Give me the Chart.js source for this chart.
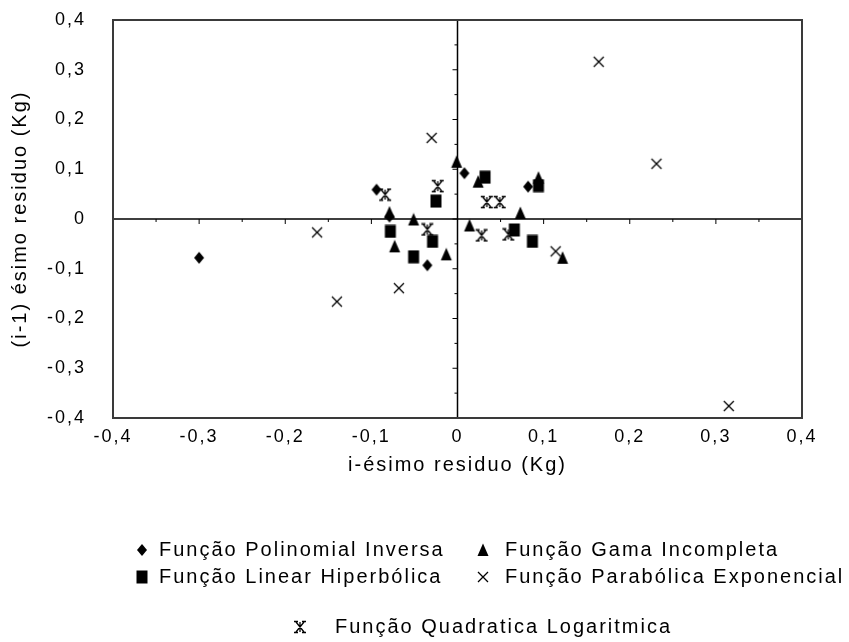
<!DOCTYPE html>
<html>
<head>
<meta charset="utf-8">
<script src="https://cdn.jsdelivr.net/npm/chart.js@4.4.0/dist/chart.umd.min.js"></script>
<style>
  html, body { margin: 0; padding: 0; background: #fff; }
  #wrap { width: 849px; height: 642px; }
</style>
</head>
<body>
<div id="wrap"><canvas id="chart" width="849" height="642"></canvas></div>
<script>
// series names, in legend order
const seriesNames = [
  'Função Polinomial Inversa',
  'Função Gama Incompleta',
  'Função Linear Hiperbólica',
  'Função Parabólica Exponencial',
  'Função Quadratica Logaritmica'
]

// residuals (x = i-ésimo, y = (i-1) ésimo)
const polinomialX = [-0.300, -0.094, -0.079, -0.035, 0.008, 0.082]
const polinomialY = [-0.078, 0.059, 0.005, -0.093, 0.092, 0.065]

const gamaX = [-0.001, 0.024, -0.079, -0.073, -0.051, -0.013, 0.014, 0.073, 0.094, 0.122]
const gamaY = [0.115, 0.075, 0.013, -0.055, -0.001, -0.071, -0.013, 0.012, 0.083, -0.078]

const linearX = [0.032, -0.025, -0.078, -0.029, -0.051, 0.094, 0.066, 0.087]
const linearY = [0.084, 0.036, -0.025, -0.045, -0.076, 0.067, -0.022, -0.045]

const parabolicaX = [-0.030, -0.068, 0.164, 0.231, 0.315, 0.114, -0.163, -0.140]
const parabolicaY = [0.163, -0.139, 0.316, 0.111, -0.376, -0.065, -0.027, -0.166]

const quadraticaX = [-0.084, -0.023, -0.035, 0.034, 0.049, 0.028, 0.059]
const quadraticaY = [0.049, 0.066, -0.021, 0.034, 0.034, -0.033, -0.031]

// tick labels (same on both axes)
const tickLabels = ['-0,4', '-0,3', '-0,2', '-0,1', '0', '0,1', '0,2', '0,3', '0,4']

const toPoints = (xs, ys) => xs.map((x, i) => ({ x: x, y: ys[i] }))

// little bitmap-like markers
function makeMarker(kind) {
  const c = document.createElement('canvas')
  c.width = 14
  c.height = 14
  const g = c.getContext('2d')
  g.fillStyle = '#000'
  g.strokeStyle = '#000'
  g.lineWidth = 1.3
  g.beginPath()
  if (kind === 'diamond') {
    g.moveTo(7, 1); g.lineTo(12, 7); g.lineTo(7, 13); g.lineTo(2, 7); g.closePath(); g.fill()
  } else if (kind === 'triangle') {
    g.moveTo(7, 0.5); g.lineTo(12.5, 13); g.lineTo(1.5, 13); g.closePath(); g.fill()
  } else if (kind === 'square') {
    g.rect(1.5, 0.5, 11, 13); g.fill()
  } else if (kind === 'x') {
    g.moveTo(2, 2); g.lineTo(12, 12); g.moveTo(12, 2); g.lineTo(2, 12); g.stroke()
  } else {
    // "ж"-like: x with serifs and a middle stem
    g.moveTo(3, 2); g.lineTo(11, 12); g.moveTo(11, 2); g.lineTo(3, 12)
    g.moveTo(7, 2); g.lineTo(7, 12)
    g.moveTo(1, 1.5); g.lineTo(5, 1.5); g.moveTo(9, 1.5); g.lineTo(13, 1.5)
    g.moveTo(1, 12.5); g.lineTo(5, 12.5); g.moveTo(9, 12.5); g.lineTo(13, 12.5)
    g.stroke()
  }
  return c
}

const markers = [makeMarker('diamond'), makeMarker('triangle'), makeMarker('square'), makeMarker('x'), makeMarker('asterisk')]

Chart.defaults.font.family = '"Liberation Sans", Arial, sans-serif'
Chart.defaults.font.size = 18
Chart.defaults.color = '#000'

// wider letter spacing, like the old bitmap font
const spacingPlugin = {
  id: 'spacing',
  beforeUpdate(chart) { chart.ctx.letterSpacing = '2px' },
  beforeDraw(chart) { chart.ctx.letterSpacing = '2px' }
}

// box, zero lines and their small ticks
const axesPlugin = {
  id: 'axes',
  beforeDatasetsDraw(chart) {
    const { ctx, chartArea: a, scales: { x, y } } = chart
    const x0 = x.getPixelForValue(0)
    const y0 = y.getPixelForValue(0)
    ctx.save()
    ctx.strokeStyle = '#000'
    ctx.lineWidth = 1.5
    ctx.beginPath()
    ctx.moveTo(a.left, y0); ctx.lineTo(a.right, y0)
    ctx.moveTo(x0, a.top); ctx.lineTo(x0, a.bottom)
    ctx.stroke()
    ctx.lineWidth = 1
    ctx.beginPath()
    for (let i = -8; i <= 8; i++) {
      const len = i % 2 === 0 ? 5 : 3
      const px = x.getPixelForValue(i * 0.05)
      const py = y.getPixelForValue(i * 0.05)
      ctx.moveTo(px, y0); ctx.lineTo(px, y0 + len)
      ctx.moveTo(x0, py); ctx.lineTo(x0 - len, py)
    }
    ctx.stroke()
    ctx.strokeStyle = '#3a3a3a'
    ctx.lineWidth = 2
    ctx.strokeRect(a.left, a.top, a.right - a.left, a.bottom - a.top)
    ctx.restore()
  }
}

// legend laid out like the original (two columns + one centred row)
const legendPlugin = {
  id: 'customLegend',
  afterDraw(chart) {
    const ctx = chart.ctx
    const spots = [
      { m: 142, t: 159, y: 550 },
      { m: 483, t: 505, y: 550 },
      { m: 142, t: 159, y: 577 },
      { m: 483, t: 505, y: 577 },
      { m: 300, t: 335, y: 627 }
    ]
    ctx.save()
    ctx.font = '20px "Liberation Sans", Arial, sans-serif'
    ctx.letterSpacing = '2px'
    ctx.fillStyle = '#000'
    ctx.textBaseline = 'middle'
    chart.data.datasets.forEach((ds, i) => {
      const s = spots[i]
      const img = ds.pointStyle
      ctx.drawImage(img, s.m - img.width / 2, s.y - img.height / 2)
      ctx.fillText(ds.label, s.t, s.y)
    })
    ctx.restore()
  }
}

const datasets = [
  { label: seriesNames[0], data: toPoints(polinomialX, polinomialY), pointStyle: markers[0] },
  { label: seriesNames[1], data: toPoints(gamaX, gamaY), pointStyle: markers[1] },
  { label: seriesNames[2], data: toPoints(linearX, linearY), pointStyle: markers[2] },
  { label: seriesNames[3], data: toPoints(parabolicaX, parabolicaY), pointStyle: markers[3] },
  { label: seriesNames[4], data: toPoints(quadraticaX, quadraticaY), pointStyle: markers[4] }
].map(d => Object.assign(d, { pointRadius: 6, backgroundColor: '#000', borderColor: '#000' }))

new Chart(document.getElementById('chart'), {
  type: 'scatter',
  data: { datasets: datasets },
  options: {
    responsive: false,
    animation: false,
    events: [],
    layout: { padding: { left: 0, right: 47, top: 20, bottom: 162 } },
    plugins: {
      legend: { display: false },
      tooltip: { enabled: false }
    },
    scales: {
      x: {
        min: -0.4,
        max: 0.4,
        grid: { display: false },
        border: { display: false },
        ticks: { stepSize: 0.1, padding: 0, maxRotation: 0, callback: (v, i) => tickLabels[i] },
        title: { display: true, text: 'i-ésimo residuo (Kg)', font: { size: 20 }, padding: { top: 0, bottom: 3 } },
        afterFit: s => { s.height = 62 }
      },
      y: {
        min: -0.4,
        max: 0.4,
        grid: { display: false },
        border: { display: false },
        ticks: { stepSize: 0.1, padding: 19, callback: (v, i) => tickLabels[i] },
        title: { display: true, text: '(i-1) ésimo residuo (Kg)', font: { size: 20 }, padding: { top: 8, bottom: 0 } },
        afterFit: s => { s.width = 113; s.paddingTop = 0; s.paddingBottom = 0 }
      }
    }
  },
  plugins: [spacingPlugin, axesPlugin, legendPlugin]
})
</script>
</body>
</html>
